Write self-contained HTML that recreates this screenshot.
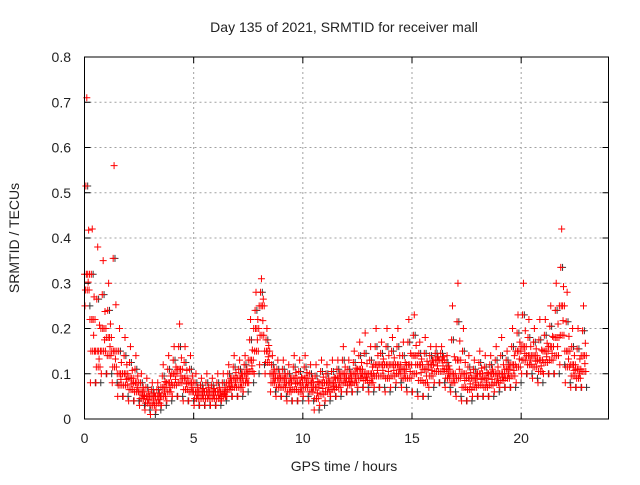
<!DOCTYPE html>
<html><head><meta charset="utf-8"><style>
body{margin:0;background:#fff}
text{font-family:"Liberation Sans",sans-serif;font-size:14px;fill:#222}
</style></head><body>
<svg id="chart" width="640" height="480" xmlns="http://www.w3.org/2000/svg">
<rect width="640" height="480" fill="#fff"/>
<text x="344" y="32" text-anchor="middle">Day 135 of 2021, SRMTID for receiver mall</text>
<g id="grid"></g>
<g id="marks"></g>
<rect x="84.5" y="57" width="524" height="362" fill="none" stroke="#000" stroke-width="1"/>
<g id="ticks"></g>
<text x="344" y="471" text-anchor="middle">GPS time / hours</text>
<text transform="translate(19,238) rotate(-90)" text-anchor="middle">SRMTID / TECUs</text>
</svg>
<script>
const xTicks=[0,5,10,15,20];
const yTicks=[0,0.1,0.2,0.3,0.4,0.5,0.6,0.7,0.8];
const yTickLabels=["0","0.1","0.2","0.3","0.4","0.5","0.6","0.7","0.8"];
const binStart=[0,0.25,0.5,0.75,1,1.25,1.5,1.75,2,2.25,2.5,2.75,3,3.25,3.5,3.75,4,4.25,4.5,4.75,5,5.25,5.5,5.75,6,6.25,6.5,6.75,7,7.25,7.5,7.75,8,8.25,8.5,8.75,9,9.25,9.5,9.75,10,10.25,10.5,10.75,11,11.25,11.5,11.75,12,12.25,12.5,12.75,13,13.25,13.5,13.75,14,14.25,14.5,14.75,15,15.25,15.5,15.75,16,16.25,16.5,16.75,17,17.25,17.5,17.75,18,18.25,18.5,18.75,19,19.25,19.5,19.75,20,20.25,20.5,20.75,21,21.25,21.5,21.75,22,22.25,22.5,22.75];
const lowVals=[.25,.08,.08,.1,.1,.08,.05,.05,.04,.04,.03,.02,.01,.02,.03,.04,.05,.05,.04,.04,.03,.03,.03,.03,.03,.04,.05,.05,.05,.06,.08,.1,.12,.1,.06,.05,.05,.04,.04,.04,.05,.04,.02,.03,.04,.05,.05,.06,.06,.06,.07,.07,.06,.07,.07,.06,.07,.08,.07,.06,.06,.05,.05,.07,.08,.08,.07,.06,.05,.04,.04,.05,.05,.05,.05,.06,.07,.07,.07,.08,.1,.1,.09,.08,.1,.1,.1,.12,.08,.07,.07,.07];
const midVals=[.32,.22,.15,.2,.18,.15,.1,.1,.09,.08,.06,.05,.05,.05,.07,.08,.1,.11,.09,.08,.06,.06,.06,.06,.06,.06,.08,.09,.09,.1,.13,.2,.25,.15,.1,.09,.09,.08,.09,.08,.09,.08,.07,.08,.08,.08,.09,.1,.09,.1,.11,.1,.1,.12,.12,.12,.12,.12,.11,.12,.14,.12,.11,.12,.13,.13,.11,.1,.13,.1,.09,.09,.1,.09,.1,.1,.1,.11,.12,.15,.16,.14,.14,.13,.15,.16,.18,.25,.15,.12,.11,.14];
const highVals=[.71,.42,.38,.35,.3,.56,.2,.18,.16,.14,.1,.09,.08,.08,.12,.14,.16,.21,.16,.14,.1,.09,.1,.09,.1,.1,.12,.14,.13,.14,.22,.28,.31,.2,.14,.13,.13,.12,.14,.13,.14,.12,.12,.13,.12,.13,.13,.16,.13,.15,.17,.19,.16,.2,.17,.2,.18,.2,.17,.22,.23,.17,.18,.16,.16,.16,.14,.25,.3,.2,.14,.13,.15,.14,.14,.16,.18,.15,.2,.23,.3,.22,.2,.22,.22,.25,.3,.42,.28,.2,.2,.25];
const NS="http://www.w3.org/2000/svg";
const X0=84.5,X1=608.5,Y0=419,Y1=57;
const xs=t=>X0+t/24*(X1-X0);
const ys=v=>Y0-v/0.8*(Y0-Y1);
function mk(tag,attrs,parent){const e=document.createElementNS(NS,tag);for(const k in attrs)e.setAttribute(k,attrs[k]);parent.appendChild(e);return e;}
const grid=document.getElementById('grid'),ticks=document.getElementById('ticks'),marks=document.getElementById('marks');
xTicks.forEach((t,i)=>{
  const x=xs(t);
  if(t>0){const g=mk('line',{x1:x,x2:x,y1:Y1,y2:Y0,stroke:'#a0a0a0','stroke-dasharray':'2,3'},grid);
  
  }
  mk('line',{x1:x,x2:x,y1:Y0,y2:Y0-6,stroke:'#000'},ticks);
  mk('line',{x1:x,x2:x,y1:Y1,y2:Y1+6,stroke:'#000'},ticks);
  const l=mk('text',{x:x,y:443,'text-anchor':'middle'},ticks);l.textContent=String(t);
  
  
});
yTicks.forEach((v,i)=>{
  const y=ys(v);
  if(v>0&&v<0.8){const g=mk('line',{x1:X0,x2:X1,y1:y,y2:y,stroke:'#a0a0a0','stroke-dasharray':'2,3'},grid);
  
  }
  mk('line',{x1:X0,x2:X0+6,y1:y,y2:y,stroke:'#000'},ticks);
  mk('line',{x1:X1,x2:X1-6,y1:y,y2:y,stroke:'#000'},ticks);
  const l=mk('text',{x:71,y:y+5,'text-anchor':'end'},ticks);l.textContent=yTickLabels[i];
  
  
});
function plus(t,v,col,dx){
  const x=xs(t)+dx,y=ys(v);
  const p=mk('path',{d:`M${x-3.5},${y}h7M${x},${y-3.5}v7`,stroke:col,'stroke-width':1,fill:'none'},marks);
  
  
}
binStart.forEach((t,i)=>{
  const lo=lowVals[i],mi=midVals[i],hi=highVals[i];
  const a=(lo+mi)/2,b=(mi+hi)/2;
  const vals=[mi,lo,a,b,mi,hi,a,mi,(a+mi)/2,(mi+b)/2,a,mi];
  plus(t+0.1,b,'#333',1);
  plus(t+0.2,lo,'#333',1);
  vals.forEach((v,k)=>plus(t+k*0.021,v,'#f00',0));
});
</script>
</body></html>
